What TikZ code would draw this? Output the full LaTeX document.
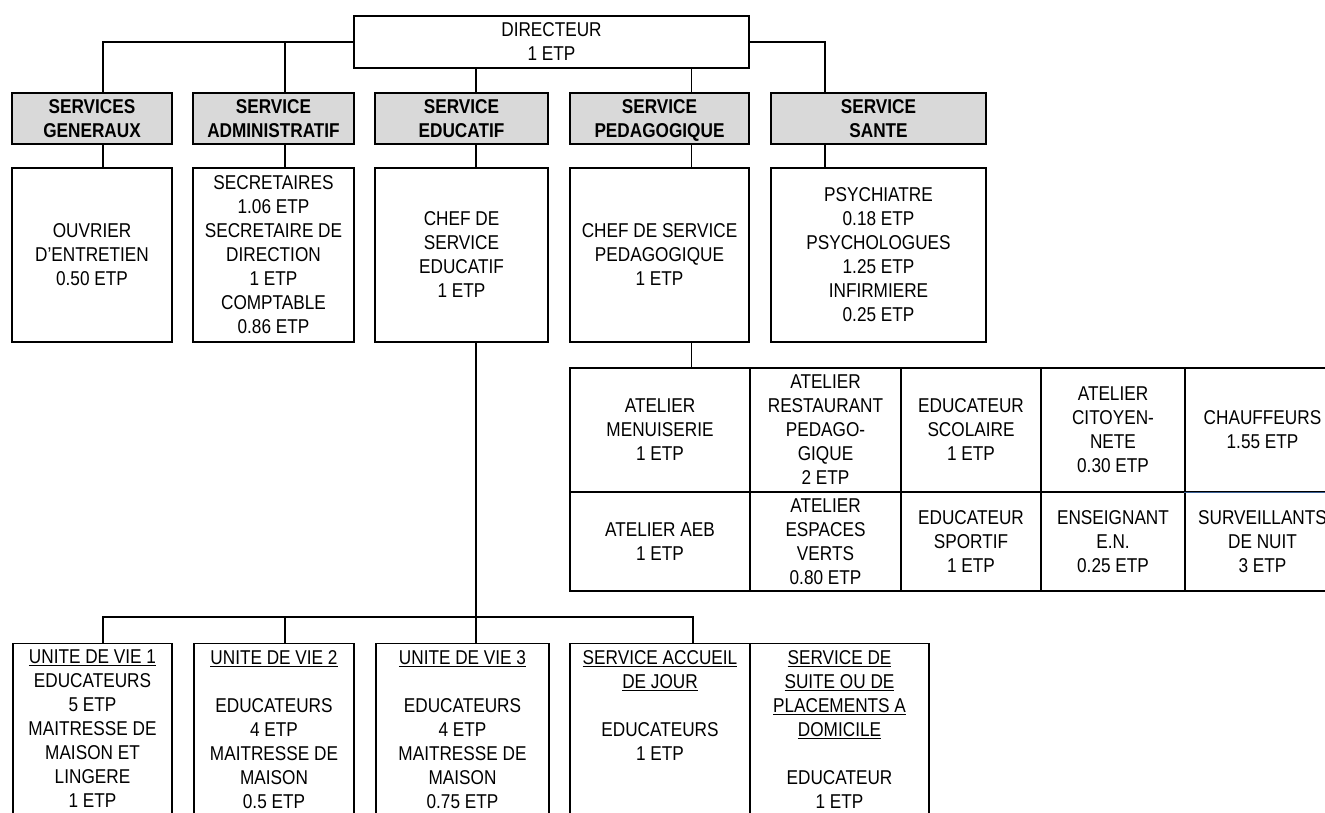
\documentclass[tikz,border=0pt]{standalone}
\usepackage{fontspec}
\setmainfont{Liberation Sans}[FakeStretch=0.86]
\usetikzlibrary{calc}
\definecolor{hdrgray}{RGB}{217,217,217}
\definecolor{divblue}{RGB}{59,96,148}
\begin{document}
\begin{tikzpicture}[x=1pt,y=-1pt,
  every node/.style={font=\fontsize{20}{24}\selectfont},
  box/.style={draw, line width=1.4pt, inner sep=0pt, align=center},
  hdr/.style={box, fill=hdrgray, font=\fontsize{20}{24}\selectfont\bfseries},
  txt/.style={inner sep=0pt, align=center, anchor=north},
  conn/.style={line width=1.4pt}]
\useasboundingbox (0,0) rectangle (1325,812);
\clip (0,0) rectangle (1325,812);
% director
\node[box, minimum width=395pt, minimum height=52pt] (dir) at (551.5,42) {DIRECTEUR\\1 ETP};
% service headers
\node[hdr, minimum width=160pt, minimum height=51pt] (gen) at (92,118.5) {SERVICES\\GENERAUX};
\node[hdr, minimum width=161pt, minimum height=51pt] (adm) at (273.5,118.5) {SERVICE\\ADMINISTRATIF};
\node[hdr, minimum width=173pt, minimum height=51pt] (edu) at (461.5,118.5) {SERVICE\\EDUCATIF};
\node[hdr, minimum width=179pt, minimum height=51pt] (ped) at (659.5,118.5) {SERVICE\\PEDAGOGI\smash{Q}UE};
\node[hdr, minimum width=215pt, minimum height=51pt] (san) at (878.5,118.5) {SERVICE\\SANTE};
% sub boxes
\node[box, minimum width=160pt, minimum height=174pt] (gens) at (92,255) {OUVRIER\\D’ENTRETIEN\\0.50 ETP};
\node[box, minimum width=161pt, minimum height=174pt] (adms) at (273.5,255) {SECRETAIRES\\1.06 ETP\\SECRETAIRE DE\\DIRECTION\\1 ETP\\COMPTABLE\\0.86 ETP};
\node[box, minimum width=173pt, minimum height=174pt] (edus) at (461.5,255) {CHEF DE\\SERVICE\\EDUCATIF\\1 ETP};
\node[box, minimum width=179pt, minimum height=174pt] (peds) at (659.5,255) {CHEF DE SERVICE\\PEDAGOGIQUE\\1 ETP};
\node[box, minimum width=215pt, minimum height=174pt] (sans) at (878.5,255) {PSYCHIATRE\\0.18 ETP\\PSYCHOLOGUES\\1.25 ETP\\INFIRMIERE\\0.25 ETP};
% table row 1
\node[box, minimum width=180pt, minimum height=124pt] (t11) at (660,430) {ATELIER\\MENUISERIE\\1 ETP};
\node[box, minimum width=151pt, minimum height=124pt] (t12) at (825.5,430) {ATELIER\\RESTAURANT\\PEDAGO-\\GIQUE\\2 ETP};
\node[box, minimum width=140pt, minimum height=124pt] (t13) at (971,430) {EDUCATEUR\\SCOLAIRE\\1 ETP};
\node[box, minimum width=144pt, minimum height=124pt] (t14) at (1113,430) {ATELIER\\CITOYEN-\\NETE\\0.30 ETP};
\node[box, minimum width=155pt, minimum height=124pt] (t15) at (1262.5,430) {CHAUFFEURS\\1.55 ETP};
% table row 2
\node[box, minimum width=180pt, minimum height=99pt] (t21) at (660,541.5) {ATELIER AEB\\1 ETP};
\node[box, minimum width=151pt, minimum height=99pt] (t22) at (825.5,541.5) {ATELIER\\ESPACES\\VERTS\\0.80 ETP};
\node[box, minimum width=140pt, minimum height=99pt] (t23) at (971,541.5) {EDUCATEUR\\SPORTIF\\1 ETP};
\node[box, minimum width=144pt, minimum height=99pt] (t24) at (1113,541.5) {ENSEIGNANT\\E.N.\\0.25 ETP};
\node[box, minimum width=155pt, minimum height=99pt] (t25) at (1262.5,541.5) {SURVEILLANTS\\DE NUIT\\3 ETP};
\draw[line width=1.4pt, divblue] (t15.south west) -- (t15.south east);
% bottom boxes
\node[box, anchor=north, minimum width=159pt, minimum height=220pt] (uv1) at (92.5,643) {};
\node[box, anchor=north, minimum width=160pt, minimum height=220pt] (uv2) at (274,643) {};
\node[box, anchor=north, minimum width=173pt, minimum height=220pt] (uv3) at (462.5,643) {};
\node[box, anchor=north, minimum width=180pt, minimum height=220pt] (acc) at (660,643) {};
\node[box, anchor=north, minimum width=179pt, minimum height=220pt] (sui) at (839.5,643) {};
\node[txt] (uv1t) at (uv1.north) [yshift=-7pt] {\underline{UNITE DE VIE 1}\\EDUCATEURS\\5 ETP\\MAITRESSE DE\\MAISON ET\\LINGERE\\1 ETP};
\node[txt] (uv2t) at (uv2.north) [yshift=-7pt] {\underline{UNITE DE VIE 2}\\[24pt]EDUCATEURS\\4 ETP\\MAITRESSE DE\\MAISON\\0.5 ETP};
\node[txt] (uv3t) at (uv3.north) [yshift=-7pt] {\underline{UNITE DE VIE 3}\\[24pt]EDUCATEURS\\4 ETP\\MAITRESSE DE\\MAISON\\0.75 ETP};
\node[txt] (acct) at (acc.north) [yshift=-7pt] {\underline{SERVICE ACCUEIL}\\\underline{DE JOUR}\\[24pt]EDUCATEURS\\1 ETP};
\node[txt] (suit) at (sui.north) [yshift=-7pt] {\underline{SERVICE DE}\\\underline{SUITE OU DE}\\\underline{PLACEMENTS A}\\\underline{DOMICILE}\\[24pt]EDUCATEUR\\1 ETP};
% connectors top
\draw[conn] (dir.west) -| ([xshift=11pt]gen.north);
\draw[conn] ([xshift=11.5pt]adm.north) -- ([xshift=11.5pt]adm.north |- dir.west);
\draw[conn] (dir.east) -| ([xshift=-53.5pt]san.north);
\draw[conn] ([xshift=14.5pt]edu.north) -- ([xshift=14.5pt]edu.north |- dir.south);
\draw[conn] ([xshift=32pt]ped.north) -- ([xshift=32pt]ped.north |- dir.south);
% header to sub
\draw[conn] ([xshift=11pt]gen.south) -- ([xshift=11pt]gens.north);
\draw[conn] ([xshift=11.5pt]adm.south) -- ([xshift=11.5pt]adms.north);
\draw[conn] ([xshift=14.5pt]edu.south) -- ([xshift=14.5pt]edus.north);
\draw[conn] ([xshift=32pt]ped.south) -- ([xshift=32pt]peds.north);
\draw[conn] ([xshift=-53.5pt]san.south) -- ([xshift=-53.5pt]sans.north);
% pedagogique to table
\draw[conn] ([xshift=32pt]peds.south) -- ([xshift=32pt]peds.south |- t11.north);
% educatif to bottom
\coordinate (bj) at (476,617);
\draw[conn] ([xshift=14.5pt]edus.south) -- (bj);
\draw[conn] (bj) -| ([xshift=10.5pt]uv1.north);
\draw[conn] (bj) -| ([xshift=33pt]acc.north);
\draw[conn] ([xshift=11pt]uv2.north) -- ([xshift=11pt]uv2.north |- bj);
\draw[conn] ([xshift=13.5pt]uv3.north) -- ([xshift=13.5pt]uv3.north |- bj);
\end{tikzpicture}
\end{document}
